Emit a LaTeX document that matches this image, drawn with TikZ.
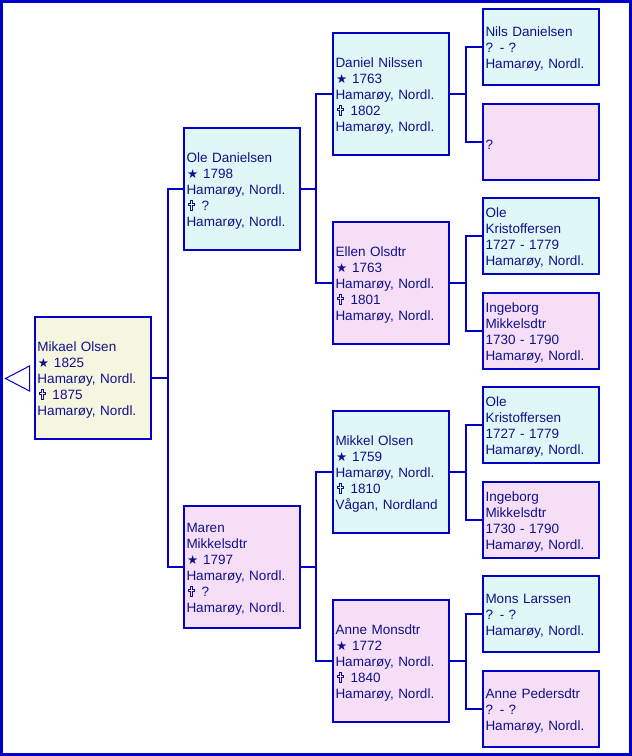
\documentclass[tikz,border=0pt]{standalone}
\usepackage{fontspec}
\setmainfont{Liberation Sans}
\newfontfamily\symfont{DejaVu Sans}
\definecolor{lineblue}{RGB}{0,0,200}
\definecolor{textblue}{RGB}{16,16,140}
\definecolor{cyanfill}{RGB}{224,247,247}
\definecolor{pinkfill}{RGB}{246,223,246}
\definecolor{ylwfill}{RGB}{246,246,224}
\newcommand\bstar{\makebox[16.5pt][l]{\hspace{0.5pt}\symfont\fontsize{12.5}{12.5}\selectfont ★}}
\newcommand\bcross{\makebox[15pt][l]{\hspace{1pt}\tikz[baseline=0pt, x=1pt, y=1pt]
  \draw[textblue, line width=0.9pt, line join=miter]
    (2,0) -- (4,0) -- (4,5.5) -- (6,5.5) -- (6,7.5) -- (4,7.5) -- (4,10) -- (2,10)
    -- (2,7.5) -- (0,7.5) -- (0,5.5) -- (2,5.5) -- cycle;}}
\tikzset{
  person/.style={draw=lineblue, line width=2pt, minimum width=116pt, text width=110pt,
    align=left, inner xsep=3pt, inner ysep=0pt, text=textblue,
    font=\fontsize{13.5}{16}\selectfont,
    execute at begin node={\rule{0pt}{14pt}}},
  big/.style={person, minimum height=122.5pt},
  small/.style={person, minimum height=76.5pt},
  cy/.style={fill=cyanfill},
  pk/.style={fill=pinkfill},
  conn/.style={draw=lineblue, line width=2pt}
}
\begin{document}
\begin{tikzpicture}[x=1pt,y=-1pt]
\useasboundingbox (0,0) rectangle (632,756);
\draw[lineblue, line width=3pt] (1.5,1.5) rectangle (630.5,754.5);
\draw[lineblue, line width=1pt, fill=white] (29.5,366) -- (5.5,378.5) -- (29.5,391) -- cycle;
% generation 1
\node[big, fill=ylwfill] (p) at (92.5,378) {Mikael Olsen\\\bstar 1825\\Hamarøy, Nordl.\\\bcross 1875\\Hamarøy, Nordl.};
% generation 2
\node[big, cy] (f) at (241.5,189) {Ole Danielsen\\\bstar 1798\\Hamarøy, Nordl.\\\bcross ?\\Hamarøy, Nordl.};
\node[big, pk] (m) at (241.5,567) {Maren\\Mikkelsdtr\\\bstar 1797\\Hamarøy, Nordl.\\\bcross ?\\Hamarøy, Nordl.};
% generation 3
\node[big, cy] (ff) at (390.5,94) {Daniel Nilssen\\\bstar 1763\\Hamarøy, Nordl.\\\bcross 1802\\Hamarøy, Nordl.};
\node[big, pk] (fm) at (390.5,283) {Ellen Olsdtr\\\bstar 1763\\Hamarøy, Nordl.\\\bcross 1801\\Hamarøy, Nordl.};
\node[big, cy] (mf) at (390.5,472) {Mikkel Olsen\\\bstar 1759\\Hamarøy, Nordl.\\\bcross 1810\\Vågan, Nordland};
\node[big, pk] (mm) at (390.5,661) {Anne Monsdtr\\\bstar 1772\\Hamarøy, Nordl.\\\bcross 1840\\Hamarøy, Nordl.};
% generation 4
\node[small, cy] (fff) at (540.5,47) {Nils Danielsen\\? - ?\\Hamarøy, Nordl.};
\node[small, pk] (ffm) at (540.5,142) {?};
\node[small, cy] (fmf) at (540.5,236) {Ole\\Kristoffersen\\1727 - 1779\\Hamarøy, Nordl.};
\node[small, pk] (fmm) at (540.5,331) {Ingeborg\\Mikkelsdtr\\1730 - 1790\\Hamarøy, Nordl.};
\node[small, cy] (mff) at (540.5,425) {Ole\\Kristoffersen\\1727 - 1779\\Hamarøy, Nordl.};
\node[small, pk] (mfm) at (540.5,520) {Ingeborg\\Mikkelsdtr\\1730 - 1790\\Hamarøy, Nordl.};
\node[small, cy] (mmf) at (540.5,614) {Mons Larssen\\? - ?\\Hamarøy, Nordl.};
\node[small, pk] (mmm) at (540.5,709) {Anne Pedersdtr\\? - ?\\Hamarøy, Nordl.};
% bracket coordinates
\coordinate (b1) at (167.5,0);
\coordinate (b2) at (316,0);
\coordinate (b3) at (465.5,0);
% connectors
\draw[conn] (p.east) -- (p.east -| b1);
\draw[conn] (f.west) -- (f.west -| b1) |- (m.west);
\draw[conn] (f.east) -- (f.east -| b2);
\draw[conn] (ff.west) -- (ff.west -| b2) |- (fm.west);
\draw[conn] (m.east) -- (m.east -| b2);
\draw[conn] (mf.west) -- (mf.west -| b2) |- (mm.west);
\draw[conn] (ff.east) -- (ff.east -| b3);
\draw[conn] (fff.west) -- (fff.west -| b3) |- (ffm.west);
\draw[conn] (fm.east) -- (fm.east -| b3);
\draw[conn] (fmf.west) -- (fmf.west -| b3) |- (fmm.west);
\draw[conn] (mf.east) -- (mf.east -| b3);
\draw[conn] (mff.west) -- (mff.west -| b3) |- (mfm.west);
\draw[conn] (mm.east) -- (mm.east -| b3);
\draw[conn] (mmf.west) -- (mmf.west -| b3) |- (mmm.west);
\end{tikzpicture}
\end{document}
